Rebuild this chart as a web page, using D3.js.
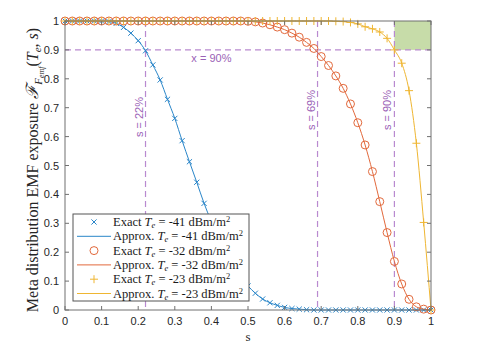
<!DOCTYPE html>
<html>
<head>
<meta charset="utf-8">
<script src="https://cdn.jsdelivr.net/npm/d3@7"></script>
<style>
  body { margin: 0; background: white; }
  svg { display: block; }
</style>
</head>
<body>
<div id="chart"></div>
<script>
// s grid of the exact points (and approx curve)
var sGrid = [0, 0.02, 0.04, 0.06, 0.08, 0.1, 0.12, 0.14, 0.16, 0.18, 0.2, 0.22, 0.24, 0.26, 0.28, 0.3,
    0.32, 0.34, 0.36, 0.38, 0.4, 0.42, 0.44, 0.46, 0.48, 0.5, 0.52, 0.54, 0.56, 0.58, 0.6, 0.62, 0.64,
    0.66, 0.68, 0.7, 0.72, 0.74, 0.76, 0.78, 0.8, 0.82, 0.84, 0.86, 0.88, 0.9, 0.92, 0.94, 0.96, 0.98, 1];

var f41 = [1, 1, 1, 1, 1, 1, 0.998, 0.992, 0.978, 0.958, 0.932, 0.897, 0.848, 0.796, 0.729, 0.663,
    0.586, 0.513, 0.442, 0.369, 0.305, 0.245, 0.195, 0.15, 0.113, 0.083, 0.058, 0.038, 0.025, 0.016, 0.009, 0.005, 0.003,
    0.001, 0, 0, 0, 0, 0, 0, 0, 0, 0, 0, 0, 0, 0, 0, 0, 0, 0];
var f32 = [1, 1, 1, 1, 1, 1, 1, 1, 1, 1, 1, 1, 1, 1, 1, 1,
    1, 1, 1, 1, 1, 1, 1, 1, 1, 0.999, 0.997, 0.993, 0.987, 0.979, 0.970, 0.958, 0.944,
    0.926, 0.905, 0.877, 0.846, 0.810, 0.767, 0.713, 0.648, 0.571, 0.479, 0.375, 0.268, 0.168, 0.09, 0.037, 0.011, 0.003, 0];
var f23 = [1, 1, 1, 1, 1, 1, 1, 1, 1, 1, 1, 1, 1, 1, 1, 1,
    1, 1, 1, 1, 1, 1, 1, 1, 1, 1, 1, 1, 1, 1, 1, 1, 1,
    1, 1, 1, 1, 0.999, 0.998, 0.995, 0.99, 0.98, 0.973, 0.962, 0.94, 0.90, 0.854, 0.759, 0.577, 0.303, 0];

var teValues = ["-41", "-32", "-23"];
var seriesColors = ["#2a86c9", "#e2693c", "#efb632"];
var markerTypes = ["x", "o", "+"];

var xTicks = [0, 0.1, 0.2, 0.3, 0.4, 0.5, 0.6, 0.7, 0.8, 0.9, 1];
var yTicks = [0, 0.1, 0.2, 0.3, 0.4, 0.5, 0.6, 0.7, 0.8, 0.9, 1];

var thresholdS = [0.22, 0.69, 0.90];
var thresholdLabels = ["s = 22%", "s = 69%", "s = 90%"];
var thresholdF = 0.9;

w = 479;
h = 344;
var pLeft = 65, pRight = 431, pTop = 21, pBottom = 310;
var purple = "#b98ad0", purpleText = "#9a62b6";
var serif = "'Liberation Serif', 'DejaVu Serif', serif";
var sans = "'Liberation Sans', Arial, sans-serif";

var svg = d3.select("#chart").append("svg").attr("width", w).attr("height", h);

var x = d3.scaleLinear().domain([0, 1]).range([pLeft, pRight]);
var y = d3.scaleLinear().domain([0, 1]).range([pBottom, pTop]);

// green target region
svg.append("rect").attr("fill", "#c7dca9")
    .attr("x", x(0.9)).attr("y", y(1)).attr("width", x(1) - x(0.9)).attr("height", y(0.9) - y(1));

// dashed guide lines
svg.append("line").attr("x1", x(0)).attr("x2", x(1)).attr("y1", y(thresholdF)).attr("y2", y(thresholdF))
    .attr("stroke", purple).attr("stroke-width", 1.2).attr("stroke-dasharray", "6,4");
thresholdS.forEach(function (s) {
    svg.append("line").attr("x1", x(s)).attr("x2", x(s)).attr("y1", y(1)).attr("y2", y(0))
        .attr("stroke", purple).attr("stroke-width", 1.2).attr("stroke-dasharray", "6,4");
});

svg.append("text").attr("x", x(0.4)).attr("y", y(thresholdF) + 12).attr("text-anchor", "middle")
    .attr("font-family", sans).attr("font-size", "11px").attr("fill", purpleText).text("x = 90%");

var labelY = [117, 110, 110];
thresholdS.forEach(function (s, i) {
    svg.append("text").attr("transform", "translate(" + (x(s) - 3) + "," + labelY[i] + ") rotate(-90)")
        .attr("text-anchor", "middle").attr("font-family", sans).attr("font-size", "11px")
        .attr("fill", purpleText).text(thresholdLabels[i]);
});

// series
var series = [f41, f32, f23];
var line = d3.line().x(function (d) { return x(d[0]); }).y(function (d) { return y(d[1]); });

function drawMarker(g, type, cx, cy, color) {
    if (type == "o") {
        g.append("circle").attr("cx", cx).attr("cy", cy).attr("r", 4)
            .attr("fill", "none").attr("stroke", color).attr("stroke-width", 1);
    } else if (type == "x") {
        var r = 2.6;
        g.append("path").attr("d", "M" + (cx - r) + "," + (cy - r) + "L" + (cx + r) + "," + (cy + r) +
            "M" + (cx - r) + "," + (cy + r) + "L" + (cx + r) + "," + (cy - r))
            .attr("stroke", color).attr("stroke-width", 1).attr("fill", "none");
    } else {
        var r = 4;
        g.append("path").attr("d", "M" + (cx - r) + "," + cy + "L" + (cx + r) + "," + cy +
            "M" + cx + "," + (cy - r) + "L" + cx + "," + (cy + r))
            .attr("stroke", color).attr("stroke-width", 1).attr("fill", "none");
    }
}

series.forEach(function (vals, i) {
    var pts = sGrid.map(function (s, j) { return [s, vals[j]]; });
    var g = svg.append("g");
    pts.forEach(function (p) { drawMarker(g, markerTypes[i], x(p[0]), y(p[1]), seriesColors[i]); });
    g.append("path").attr("d", line.curve(d3.curveMonotoneX)(pts))
        .attr("fill", "none").attr("stroke", seriesColors[i]).attr("stroke-width", 1);
});

// axes box
var axisColor = "#707070";
svg.append("rect").attr("x", pLeft).attr("y", pTop).attr("width", pRight - pLeft).attr("height", pBottom - pTop)
    .attr("fill", "none").attr("stroke", axisColor).attr("stroke-width", 1);

xTicks.forEach(function (t) {
    svg.append("line").attr("x1", x(t)).attr("x2", x(t)).attr("y1", pBottom).attr("y2", pBottom - 4).attr("stroke", axisColor);
    svg.append("line").attr("x1", x(t)).attr("x2", x(t)).attr("y1", pTop).attr("y2", pTop + 4).attr("stroke", axisColor);
    svg.append("text").attr("x", x(t)).attr("y", pBottom + 15).attr("text-anchor", "middle")
        .attr("font-family", sans).attr("font-size", "11px").attr("fill", "#262626").text(d3.format("")(t));
});
yTicks.forEach(function (t) {
    svg.append("line").attr("x1", pLeft).attr("x2", pLeft + 4).attr("y1", y(t)).attr("y2", y(t)).attr("stroke", axisColor);
    svg.append("line").attr("x1", pRight).attr("x2", pRight - 4).attr("y1", y(t)).attr("y2", y(t)).attr("stroke", axisColor);
    svg.append("text").attr("x", pLeft - 6).attr("y", y(t) + 4).attr("text-anchor", "end")
        .attr("font-family", sans).attr("font-size", "11px").attr("fill", "#262626").text(d3.format("")(t));
});

// axis labels
svg.append("text").attr("x", x(0.5)).attr("y", 341).attr("text-anchor", "middle")
    .attr("font-family", serif).attr("font-size", "13px").attr("fill", "#262626").text("s");

var yl = svg.append("text").attr("transform", "translate(38,170) rotate(-90)").attr("text-anchor", "middle")
    .attr("font-family", serif).attr("font-size", "16px").attr("fill", "#262626");
yl.append("tspan").text("Meta distribution EMF exposure ");
yl.append("tspan").attr("font-style", "italic").attr("font-size", "17px").text("\u2131");
yl.append("tspan").attr("font-style", "italic").attr("font-size", "11px").attr("dy", 4).text("F");
yl.append("tspan").attr("font-style", "italic").attr("font-size", "8px").attr("dy", 2).text("emf");
yl.append("tspan").attr("dy", -6).text("(");
yl.append("tspan").attr("font-style", "italic").text("T");
yl.append("tspan").attr("font-style", "italic").attr("font-size", "11px").attr("dy", 3).text("e");
yl.append("tspan").attr("dy", -3).text(", ");
yl.append("tspan").attr("font-style", "italic").text("s");
yl.append("tspan").text(")");

// legend
var lx = 73, ly = 214, lw = 176, lh = 87, rowH = 14.3;
var lg = svg.append("g");
lg.append("rect").attr("x", lx).attr("y", ly).attr("width", lw).attr("height", lh)
    .attr("fill", "white").attr("stroke", "#555").attr("stroke-width", 1);

for (var i = 0; i < 3; i++) {
    ["Exact", "Approx."].forEach(function (kind, k) {
        var cy = ly + 8 + (i * 2 + k) * rowH;
        if (k == 0) drawMarker(lg, markerTypes[i], 94, cy, seriesColors[i]);
        else lg.append("line").attr("x1", 77).attr("x2", 111).attr("y1", cy).attr("y2", cy)
            .attr("stroke", seriesColors[i]).attr("stroke-width", 1);
        var t = lg.append("text").attr("x", 113).attr("y", cy + 4)
            .attr("font-family", serif).attr("font-size", "12.5px").attr("fill", "#1a1a1a");
        t.append("tspan").text(kind + " ");
        t.append("tspan").attr("font-style", "italic").text("T");
        t.append("tspan").attr("font-style", "italic").attr("font-size", "8.5px").attr("dy", 2).text("e");
        t.append("tspan").attr("dy", -2).text(" = " + teValues[i] + " dBm/m");
        t.append("tspan").attr("font-size", "8.5px").attr("dy", -4).text("2");
    });
}
</script>
</body>
</html>
